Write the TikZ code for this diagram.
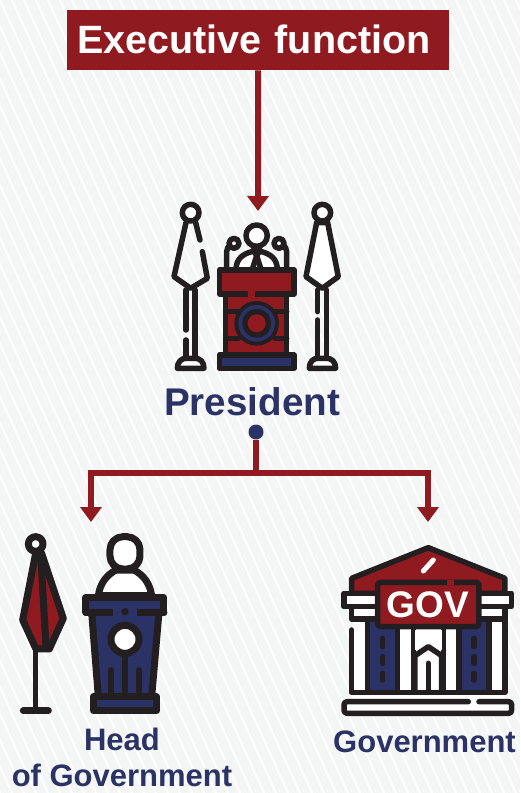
\documentclass[tikz,border=0pt]{standalone}
\usepackage{fontspec}
\setmainfont{Liberation Sans}
\usepackage{xcolor}
\usetikzlibrary{arrows.meta}
\definecolor{wine}{HTML}{8F1A1F}
\definecolor{navy}{HTML}{2A3266}
\definecolor{ink}{HTML}{231F20}
\definecolor{paper}{HTML}{F4F6F6}
\tikzset{
  stripe/.style={white, line width=1.8pt},
  icon/.style={draw=ink, line width=5.5pt, line cap=round, line join=round},
  iconthick/.style={icon, line width=7pt},
  caption/.style={text=navy, inner sep=0pt, anchor=base, font=\bfseries\fontsize{31}{36}\selectfont},
  link/.style={wine, line width=6pt},
  linktip/.style={link, -{Triangle[length=15pt,width=21pt]}}
}
\begin{document}
\begin{tikzpicture}[x=1pt,y=-1pt]
        \useasboundingbox (0,0) rectangle (520,793);
        % Background
        \fill[paper] (0,0) rectangle (520,793);
        \begin{scope}
            \clip (0,0) rectangle (520,793);
            \foreach \xpos in {-372,-360,...,520}
                \draw[stripe] (\xpos,0) -- (\xpos+360,793);
        \end{scope}

        % Titles
        \node[fill=wine, text=white, anchor=north west, align=left, text width=362pt,
              inner xsep=10pt, inner ysep=10pt, text height=33pt, text depth=7pt,
              font=\bfseries\fontsize{39.5}{44}\selectfont] (exec) at (67,10) {Executive function};
        \node[caption, font=\bfseries\fontsize{38.6}{44}\selectfont] (president) at (252,415) {President};
        \node[caption, align=center] (head) at (122,786.5) {Head\\of Government};
        \node[caption] (gov) at (424.5,752) {Government};
        \node[circle, fill=navy, minimum size=15pt, inner sep=0pt] (dot) at (256,432) {};

        % Arrow ends and branch point
        \coordinate (presidenttip) at (258,211);
        \coordinate (headtip) at (91,522);
        \coordinate (govtip) at (428,522);
        \coordinate (bus) at (256,473);

        % Arrows
        \draw[linktip] (exec) -- (presidenttip);
        \draw[link] (dot) -- (bus);
        \draw[linktip] (bus) -| (headtip);
        \draw[linktip] (bus) -| (govtip);

        % President at the podium
        \begin{scope}[shift={(160,190)},x=0.3333pt,y=-0.3333pt]
            % left flag
            \draw[icon] (120,150) -- (107,98);
            \draw[icon] (78,98) -- (42,260) -- (92,295) -- (142,265) -- (127,185);
            \draw[icon, fill=white] (92,68) circle (25);
            \draw[icon] (78,300) -- (78,420);
            \draw[icon] (78,450) -- (78,505);
            \draw[icon] (105,300) -- (105,505);
            \draw[icon, fill=white] (52,535) .. controls (52,515) and (65,505) .. (78,505) -- (105,505) .. controls (120,505) and (132,515) .. (132,535) -- cycle;
            % right flag
            \draw[icon, fill=white] (470,98) -- (438,260) -- (487,295) -- (535,260) -- (503,98) -- cycle;
            \draw[icon, fill=white] (487,68) circle (25);
            \draw[icon] (473,300) -- (473,365);
            \draw[icon] (473,390) -- (473,505);
            \draw[icon] (500,300) -- (500,505);
            \draw[icon, fill=white] (448,535) .. controls (448,515) and (460,505) .. (473,505) -- (500,505) .. controls (515,505) and (527,515) .. (527,535) -- cycle;
            % speaker
            \draw[icon, fill=white] (228,240) .. controls (228,205) and (250,192) .. (275,185) -- (305,185) .. controls (330,192) and (352,205) .. (352,240) -- cycle;
            \draw[icon] (280,180) -- (290,197) -- (300,180);
            \draw[icon] (290,197) -- (277,238);
            \draw[icon] (290,197) -- (303,238);
            \draw[icon, fill=white] (290,137) circle (32);
            % microphones
            \draw[icon] (200,238) -- (200,185) .. controls (200,175) and (205,170) .. (210,165);
            \draw[icon, fill=white] (222,160) circle (15);
            \draw[icon] (380,238) -- (380,185) .. controls (380,175) and (375,170) .. (370,165);
            \draw[icon, fill=white] (357,160) circle (15);
            % podium
            \draw[icon, fill=wine] (197,312) rectangle (380,495);
            \draw[icon] (197,365) -- (235,365);
            \draw[icon] (345,365) -- (380,365);
            \draw[icon] (197,445) -- (235,445);
            \draw[icon] (345,445) -- (380,445);
            \fill[wine] (178,240) rectangle (402,312);
            \draw[icon] (260,312) -- (178,312) -- (178,240) -- (402,240) -- (402,312) -- (290,312);
            \fill[wine] (264,304) rectangle (286,322);
            \draw[icon, fill=navy] (178,495) rectangle (402,535);
            \fill[ink] (290,400) circle (67);
            \fill[navy] (290,400) circle (55);
            \fill[ink] (290,400) circle (43);
            \fill[wine] (290,400) circle (27);
        \end{scope}

        % Head of government
        \begin{scope}[shift={(10,525)},x=0.3333pt,y=-0.3333pt]
            % flag
            \draw[icon] (77,375) -- (77,555);
            \draw[iconthick] (40,557) -- (115,557);
            \draw[iconthick, fill=wine] (77,85) -- (38,285) -- (78,372) -- (118,372) -- (160,280) -- (95,85) -- cycle;
            \draw[iconthick] (92,85) -- (108,365);
            \draw[iconthick, fill=white] (77,57) circle (22);
            % speaker
            \draw[iconthick, fill=white] (265,212) .. controls (270,175) and (290,150) .. (318,135) -- (372,135) .. controls (400,150) and (420,175) .. (425,212) -- cycle;
            \draw[iconthick, fill=white, rounded corners=13pt] (300,35) rectangle (390,132);
            % podium
            \draw[iconthick, fill=navy] (245,262) -- (265,515) -- (425,515) -- (447,262) -- cycle;
            \draw[iconthick, fill=navy] (228,217) -- (462,217) -- (462,262) -- (228,262) -- cycle;
            \fill[navy] (308,252) rectangle (382,272);
            \draw[iconthick] (228,262) -- (298,262);
            \draw[iconthick] (392,262) -- (462,262);
            \fill[ink] (345,260) circle (11);
            \draw[icon] (345,385) -- (345,515);
            \draw[icon] (303,515) -- (303,435);
            \draw[icon] (387,515) -- (387,435);
            \draw[iconthick, fill=white] (345,343) circle (42);
            \draw[iconthick, fill=navy] (250,515) rectangle (440,558);
        \end{scope}

        % Government building
        \begin{scope}[shift={(335,535)},x=0.3333pt,y=-0.3333pt]
            % columns
            \fill[white] (55,250) rectangle (505,490);
            \fill[navy] (105,255) rectangle (180,465);
            \fill[navy] (380,255) rectangle (455,465);
            \draw[icon] (50,285) -- (50,470);
            \draw[icon] (510,250) -- (510,470);
            \foreach \xcol in {97,187,235,325,372,462}
                \draw[icon] (\xcol,255) -- (\xcol,470);
            \fill[white] (240,285) rectangle (320,345);
            \draw[icon] (240,465) -- (240,362) -- (280,335) -- (320,362) -- (320,465);
            \draw[icon] (280,465) -- (280,385);
            \foreach \xcol in {143,417}{
                \draw[icon] (\xcol,310) -- (\xcol,335);
                \draw[icon] (\xcol,365) -- (\xcol,385);
                \draw[icon] (\xcol,415) -- (\xcol,435);
            }
            \draw[icon] (50,472) -- (510,472);
            % base
            \fill[white] (50,480) rectangle (510,495);
            \fill[white] (27,500) rectangle (530,535);
            \draw[icon, rounded corners=3pt] (400,500) -- (27,500) -- (27,535) -- (530,535) -- (530,500) -- (432,500);
            % roof
            \draw[icon, fill=wine] (50,175) -- (50,130) -- (280,38) -- (510,130) -- (510,175) -- cycle;
            \draw[white, line width=5pt, line cap=round] (265,108) -- (295,75);
            % beam
            \draw[icon, fill=white] (50,215) rectangle (510,252);
            \draw[icon, fill=white] (27,175) rectangle (530,215);
            % sign
            \draw[icon, fill=wine, rounded corners=3pt] (128,142) rectangle (432,275);
            \fill[wine] (335,135) rectangle (358,150);
            \node[text=white, inner sep=0pt, anchor=base, font=\bfseries\fontsize{37}{40}\selectfont] (signtext) at (278,248) {GOV};
        \end{scope}
    \end{tikzpicture}
\end{document}
